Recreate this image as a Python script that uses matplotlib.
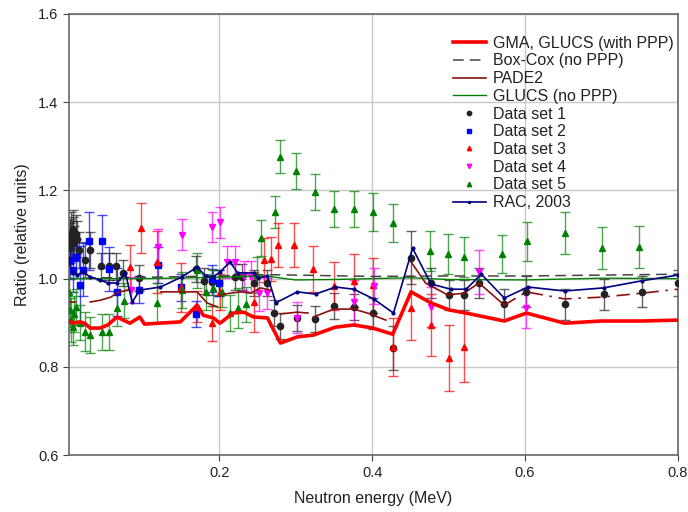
import numpy as np
import matplotlib
matplotlib.use("Agg")
import matplotlib.pyplot as plt

plt.rcParams["font.family"] = ["Liberation Sans", "DejaVu Sans"]

# ---- evaluated curves ----
gma_x = [0.002, 0.008, 0.017, 0.024, 0.031, 0.044, 0.054, 0.066, 0.083, 0.096, 0.102,
         0.149, 0.171, 0.179, 0.192, 0.201, 0.218, 0.232, 0.245, 0.263, 0.280, 0.302,
         0.323, 0.352, 0.376, 0.401, 0.427, 0.451, 0.477, 0.501, 0.523, 0.573, 0.602,
         0.652, 0.700, 0.753, 0.800]
gma_y = [0.906, 0.899, 0.902, 0.899, 0.888, 0.888, 0.895, 0.913, 0.899, 0.913, 0.897,
         0.902, 0.940, 0.917, 0.911, 0.899, 0.922, 0.924, 0.913, 0.911, 0.854, 0.868,
         0.872, 0.890, 0.895, 0.888, 0.874, 0.970, 0.945, 0.929, 0.922, 0.904, 0.922,
         0.899, 0.904, 0.904, 0.906]

boxcox_x = [0.002, 0.05, 0.10, 0.20, 0.26, 0.30, 0.40, 0.50, 0.60, 0.70, 0.80]
boxcox_y = [1.000, 1.002, 1.003, 1.006, 1.009, 1.008, 1.005, 1.006, 1.006, 1.008, 1.010]

glucs_x = [0.002, 0.05, 0.10, 0.20, 0.26, 0.30, 0.35, 0.40, 0.45, 0.50, 0.60, 0.70, 0.80]
glucs_y = [1.000, 1.000, 1.000, 1.003, 1.006, 0.997, 0.998, 1.000, 1.002, 0.998, 0.997, 1.001, 1.000]

# PADE2 drawn in separate pieces (None = gap)
pade_x = [0.005, 0.012, None, 0.031, 0.044, 0.058, 0.068, 0.083, None, 0.123, 0.162, 0.171,
          0.184, 0.197, None, 0.201, 0.214, 0.228, 0.241, 0.254, 0.267, None, 0.280, 0.302,
          0.316, None, 0.323, 0.350, 0.376, 0.394, 0.418, None, 0.451, 0.470, 0.499, 0.520,
          0.540, 0.573]
pade_y = [0.947, 0.947, None, 0.947, 0.951, 0.958, 0.970, 0.974, None, 0.970, 0.970, 0.970,
          0.945, 0.936, None, 0.963, 0.967, 0.970, 0.967, 0.979, 0.974, None, 0.920, 0.924,
          0.922, None, 0.913, 0.931, 0.931, 0.922, 0.906, None, 1.038, 0.990, 0.963, 0.967,
          0.990, 0.940]
pade_tail_x = [0.573, 0.602, 0.652, 0.700, 0.753, 0.800]
pade_tail_y = [0.940, 0.970, 0.954, 0.958, 0.967, 0.976]

rac_x = [0.002, 0.008, 0.014, 0.021, 0.031, 0.044, 0.054, 0.066, 0.077, 0.086, 0.096,
         0.123, 0.151, 0.171, 0.182, 0.192, 0.201, 0.214, 0.224, 0.245, 0.251, 0.263,
         0.274, 0.302, 0.326, 0.352, 0.376, 0.402, 0.428, 0.453, 0.477, 0.503, 0.523,
         0.543, 0.573, 0.604, 0.652, 0.703, 0.753, 0.800]
rac_y = [1.047, 1.013, 1.008, 1.015, 1.004, 0.997, 0.990, 0.990, 1.013, 0.947, 0.974,
         0.981, 1.004, 1.026, 1.006, 1.004, 1.015, 1.038, 1.013, 1.013, 1.001, 1.006,
         0.945, 0.970, 0.965, 0.981, 0.976, 0.954, 0.922, 1.069, 0.988, 0.976, 0.976,
         1.010, 0.956, 0.981, 0.972, 0.979, 0.995, 1.008]

# ---- experimental data sets (x, ratio, uncertainty) ----
ds1_x = [0.003, 0.004, 0.005, 0.006, 0.007, 0.008, 0.009, 0.010, 0.012, 0.014, 0.017,
         0.024, 0.031, 0.045, 0.055, 0.065, 0.074, 0.095, 0.170, 0.180, 0.190, 0.200,
         0.220, 0.230, 0.245, 0.263, 0.272, 0.280, 0.302, 0.325, 0.350, 0.376, 0.401,
         0.427, 0.451, 0.477, 0.501, 0.520, 0.540, 0.573, 0.602, 0.652, 0.703, 0.753, 0.800]
ds1_y = [1.070, 1.080, 1.090, 1.100, 1.085, 1.110, 1.095, 1.080, 1.100, 1.090, 1.065,
         1.042, 1.065, 1.028, 1.028, 1.028, 1.013, 1.001, 1.022, 0.995, 0.992, 0.990,
         1.004, 1.004, 0.990, 0.990, 0.922, 0.893, 0.911, 0.908, 0.938, 0.936, 0.922,
         0.843, 1.047, 0.990, 0.963, 0.963, 0.990, 0.942, 0.970, 0.942, 0.965, 0.970, 0.990]
ds1_e = [0.045, 0.045, 0.045, 0.05, 0.045, 0.045, 0.045, 0.04, 0.045, 0.04, 0.04,
         0.04, 0.04, 0.03, 0.03, 0.03, 0.03, 0.03, 0.03, 0.03, 0.03, 0.03,
         0.03, 0.03, 0.03, 0.03, 0.03, 0.03, 0.03, 0.03, 0.03, 0.03, 0.035,
         0.05, 0.06, 0.035, 0.035, 0.035, 0.035, 0.035, 0.035, 0.035, 0.035, 0.035, 0.03]

ds2_x = [0.004, 0.008, 0.013, 0.018, 0.022, 0.030, 0.046, 0.055, 0.066, 0.095, 0.120,
         0.150, 0.170, 0.190, 0.200]
ds2_y = [1.040, 1.020, 1.050, 0.985, 1.020, 1.085, 1.085, 1.022, 0.970, 0.975, 1.031,
         0.980, 0.920, 1.000, 0.990]
ds2_e = [0.04, 0.05, 0.04, 0.09, 0.06, 0.065, 0.06, 0.05, 0.055, 0.03, 0.04,
         0.03, 0.03, 0.03, 0.03]

ds3_x = [0.083, 0.098, 0.118, 0.150, 0.171, 0.190, 0.201, 0.245, 0.258, 0.268, 0.277,
         0.298, 0.323, 0.350, 0.376, 0.401, 0.427, 0.451, 0.477, 0.501, 0.520]
ds3_y = [1.026, 1.115, 1.038, 0.980, 0.936, 0.899, 0.970, 0.947, 1.042, 1.044, 1.076,
         1.076, 1.022, 0.983, 0.995, 0.985, 0.845, 0.933, 0.895, 0.820, 0.845]
ds3_e = [0.05, 0.057, 0.07, 0.055, 0.035, 0.04, 0.04, 0.068, 0.05, 0.05, 0.05,
         0.05, 0.053, 0.055, 0.06, 0.062, 0.065, 0.072, 0.07, 0.075, 0.08]

ds4_x = [0.085, 0.120, 0.151, 0.191, 0.201, 0.210, 0.220, 0.232, 0.242, 0.252, 0.262,
         0.302, 0.376, 0.402, 0.477, 0.540, 0.602]
ds4_y = [0.974, 1.072, 1.099, 1.117, 1.128, 1.038, 1.038, 1.006, 1.004, 0.967, 0.967,
         0.911, 0.947, 0.983, 0.936, 1.015, 0.933]
ds4_e = [0.03, 0.04, 0.035, 0.033, 0.035, 0.037, 0.035, 0.035, 0.035, 0.04, 0.035,
         0.035, 0.05, 0.04, 0.045, 0.05, 0.045]

ds5_x = [0.003, 0.005, 0.006, 0.008, 0.010, 0.013, 0.018, 0.024, 0.031, 0.046, 0.055,
         0.066, 0.075, 0.118, 0.151, 0.171, 0.182, 0.192, 0.204, 0.214, 0.224, 0.235,
         0.250, 0.255, 0.273, 0.280, 0.300, 0.325, 0.350, 0.376, 0.401, 0.427, 0.476,
         0.500, 0.520, 0.570, 0.603, 0.652, 0.701, 0.750]
ds5_y = [0.970, 0.930, 0.906, 0.890, 0.920, 0.936, 0.900, 0.880, 0.872, 0.879, 0.879,
         0.933, 0.950, 0.944, 0.974, 1.019, 0.970, 0.979, 0.970, 0.922, 0.933, 0.942,
         1.008, 1.092, 1.151, 1.276, 1.244, 1.196, 1.158, 1.158, 1.151, 1.126, 1.063,
         1.056, 1.049, 1.056, 1.085, 1.103, 1.069, 1.072]
ds5_e = [0.04, 0.04, 0.05, 0.04, 0.04, 0.04, 0.04, 0.045, 0.04, 0.04, 0.04,
         0.04, 0.04, 0.045, 0.04, 0.04, 0.04, 0.04, 0.035, 0.04, 0.045, 0.04,
         0.04, 0.04, 0.037, 0.037, 0.04, 0.04, 0.04, 0.04, 0.042, 0.044, 0.045,
         0.045, 0.045, 0.043, 0.044, 0.047, 0.047, 0.047]

fig = plt.figure(figsize=(6.88, 5.12), dpi=100)
ax = fig.add_axes([0.1, 0.111, 0.885, 0.862])

datasets = [
    (ds1_x, ds1_y, ds1_e, "o", "#222222", "Data set 1"),
    (ds2_x, ds2_y, ds2_e, "s", "#0000ff", "Data set 2"),
    (ds3_x, ds3_y, ds3_e, "^", "#ff0000", "Data set 3"),
    (ds4_x, ds4_y, ds4_e, "v", "#ff00ff", "Data set 4"),
    (ds5_x, ds5_y, ds5_e, "^", "#008000", "Data set 5"),
]
handles = {}
for x, y, e, m, c, lab in datasets:
    ax.errorbar(x, y, yerr=e, fmt="none", ecolor=c, elinewidth=1.0,
                capsize=3.5, capthick=1.0, alpha=0.7, zorder=2)
    handles[lab] = ax.plot(x, y, ls="none", marker=m, ms=4.5, color=c,
                           label=lab, zorder=3)[0]

px = np.array([np.nan if v is None else v for v in pade_x], dtype=float)
py = np.array([np.nan if v is None else v for v in pade_y], dtype=float)
h_pade, = ax.plot(px, py, color="#8b1010", lw=1.2, label="PADE2", zorder=4)
ax.plot(pade_tail_x, pade_tail_y, color="#8b1010", lw=1.2, ls=(0, (8, 4, 1.5, 4)), zorder=4)
h_box, = ax.plot(boxcox_x, boxcox_y, color="#444444", lw=1.1, ls=(0, (7, 4)),
                 label="Box-Cox (no PPP)", zorder=4)
h_glu, = ax.plot(glucs_x, glucs_y, color="#008000", lw=1.0, label="GLUCS (no PPP)", zorder=4)
h_gma, = ax.plot(gma_x, gma_y, color="#ff0000", lw=2.6, label="GMA, GLUCS (with PPP)", zorder=5)
h_rac, = ax.plot(rac_x, rac_y, color="#000080", lw=1.2, marker="o", ms=2,
                 label="RAC, 2003", zorder=6)

ax.set_xlim(0.003, 0.8)
ax.set_ylim(0.6, 1.6)
ax.set_xticks([0.2, 0.4, 0.6, 0.8])
ax.set_xticklabels(["0.2", "0.4", "0.6", "0.8"])
ax.set_yticks([0.6, 0.8, 1.0, 1.2, 1.4, 1.6])
ax.set_yticklabels(["0.6", "0.8", "1.0", "1.2", "1.4", "1.6"])
ax.grid(True, color="#c8c8c8", lw=1.0)
ax.set_axisbelow(True)
for s in ax.spines.values():
    s.set_color("#666666")
    s.set_linewidth(1.2)
ax.tick_params(direction="out", length=4, color="#444444", labelsize=10.5,
               labelcolor="#222222", top=False, right=False)
ax.set_xlabel("Neutron energy (MeV)", fontsize=11.5, color="#222222", labelpad=8)
ax.set_ylabel("Ratio (relative units)", fontsize=11.5, color="#222222", labelpad=6)

order = [h_gma, h_box, h_pade, h_glu, handles["Data set 1"], handles["Data set 2"],
         handles["Data set 3"], handles["Data set 4"], handles["Data set 5"], h_rac]
leg = ax.legend(handles=order, loc="upper left", bbox_to_anchor=(0.62, 0.965),
                frameon=False, fontsize=11.5, handlelength=2.1, handletextpad=0.4,
                labelspacing=0.17, borderaxespad=0, markerscale=0.7)
for t in leg.get_texts():
    t.set_color("#222222")

fig.savefig("out.png", dpi=100)
